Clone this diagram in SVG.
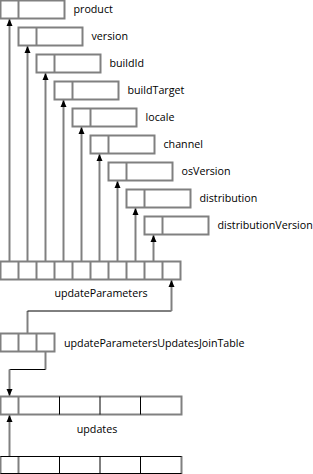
<svg xmlns="http://www.w3.org/2000/svg" width="313" height="474" viewBox="0 0 313 474">
<defs>
<style>
.box{fill:#fff;stroke:#808080;stroke-width:2}
.div{stroke:#808080;stroke-width:2}
.thin{stroke:#000;stroke-width:1}
.lbl{font-family:"Open Sans","DejaVu Sans",sans-serif;font-size:10.7px;fill:#000}
.con{fill:none;stroke:#808080;stroke-width:2}
.hcon{fill:none;stroke:#000;stroke-width:1}
</style>
<marker id="ah" markerUnits="userSpaceOnUse" markerWidth="8" markerHeight="8" viewBox="0 0 8 8" refX="7" refY="4" orient="auto">
<path d="M0,1 L7,4 L0,7 Z" fill="#000"/>
</marker>
</defs>
<rect width="313" height="474" fill="#fff"/>

<g id="connectors">
<line class="con" x1="9.5" y1="261" x2="9.5" y2="19" marker-end="url(#ah)"/>
<line class="con" x1="27.5" y1="261" x2="27.5" y2="46" marker-end="url(#ah)"/>
<line class="con" x1="45.5" y1="261" x2="45.5" y2="73" marker-end="url(#ah)"/>
<line class="con" x1="63.5" y1="261" x2="63.5" y2="100" marker-end="url(#ah)"/>
<line class="con" x1="81.5" y1="261" x2="81.5" y2="127" marker-end="url(#ah)"/>
<line class="con" x1="99.5" y1="261" x2="99.5" y2="154" marker-end="url(#ah)"/>
<line class="con" x1="117.5" y1="261" x2="117.5" y2="181" marker-end="url(#ah)"/>
<line class="con" x1="135.5" y1="261" x2="135.5" y2="208" marker-end="url(#ah)"/>
<line class="con" x1="153.5" y1="261" x2="153.5" y2="235" marker-end="url(#ah)"/>
<line class="con" x1="27.5" y1="333" x2="27.5" y2="311"/>
<line class="hcon" x1="27.5" y1="311" x2="171.5" y2="311"/>
<line class="con" x1="171.5" y1="311" x2="171.5" y2="280" marker-end="url(#ah)"/>
<line class="con" x1="45.5" y1="352" x2="45.5" y2="369.5"/>
<line class="hcon" x1="45.5" y1="369.5" x2="9.5" y2="369.5"/>
<line class="con" x1="9.5" y1="369.5" x2="9.5" y2="396" marker-end="url(#ah)"/>
<line class="con" x1="9.5" y1="456" x2="9.5" y2="415" marker-end="url(#ah)"/>
</g>

<g id="product"><rect class="box" x="0.5" y="0.5" width="64" height="18"/><line class="div" x1="18.5" y1="0.5" x2="18.5" y2="18.5"/><text class="lbl" x="73.5" y="13">product</text></g>
<g id="version"><rect class="box" x="18.5" y="27.5" width="64" height="18"/><line class="div" x1="36.5" y1="27.5" x2="36.5" y2="45.5"/><text class="lbl" x="91.5" y="40">version</text></g>
<g id="buildId"><rect class="box" x="36.5" y="54.5" width="64" height="18"/><line class="div" x1="54.5" y1="54.5" x2="54.5" y2="72.5"/><text class="lbl" x="109.5" y="67">buildId</text></g>
<g id="buildTarget"><rect class="box" x="54.5" y="81.5" width="64" height="18"/><line class="div" x1="72.5" y1="81.5" x2="72.5" y2="99.5"/><text class="lbl" x="127.5" y="94">buildTarget</text></g>
<g id="locale"><rect class="box" x="72.5" y="108.5" width="64" height="18"/><line class="div" x1="90.5" y1="108.5" x2="90.5" y2="126.5"/><text class="lbl" x="145.5" y="121">locale</text></g>
<g id="channel"><rect class="box" x="90.5" y="135.5" width="64" height="18"/><line class="div" x1="108.5" y1="135.5" x2="108.5" y2="153.5"/><text class="lbl" x="163.5" y="148">channel</text></g>
<g id="osVersion"><rect class="box" x="108.5" y="162.5" width="64" height="18"/><line class="div" x1="126.5" y1="162.5" x2="126.5" y2="180.5"/><text class="lbl" x="181.5" y="175">osVersion</text></g>
<g id="distribution"><rect class="box" x="126.5" y="189.5" width="64" height="18"/><line class="div" x1="144.5" y1="189.5" x2="144.5" y2="207.5"/><text class="lbl" x="199.5" y="202">distribution</text></g>
<g id="distributionVersion"><rect class="box" x="144.5" y="216.5" width="64" height="18"/><line class="div" x1="162.5" y1="216.5" x2="162.5" y2="234.5"/><text class="lbl" x="217.5" y="229">distributionVersion</text></g>

<g id="updateParameters">
<rect class="box" x="0.5" y="261.5" width="180" height="18"/>
<path class="div" d="M18.5,261.5V279.5M36.5,261.5V279.5M54.5,261.5V279.5M72.5,261.5V279.5M90.5,261.5V279.5M108.5,261.5V279.5M126.5,261.5V279.5M144.5,261.5V279.5M162.5,261.5V279.5"/>
<text class="lbl" x="101" y="297" text-anchor="middle">updateParameters</text>
</g>

<g id="updateParametersUpdatesJoinTable">
<rect class="box" x="0.5" y="333.5" width="54" height="18"/>
<path class="div" d="M18.5,333.5V351.5M36.5,333.5V351.5"/>
<text class="lbl" x="64" y="347">updateParametersUpdatesJoinTable</text>
</g>

<g id="updates">
<rect class="box" x="0.5" y="396.5" width="181" height="18"/>
<path class="div" d="M18.5,396.5V414.5"/>
<path class="thin" d="M59.5,396.5V414.5M100,396.5V414.5M140.5,396.5V414.5"/>
<text class="lbl" x="97" y="433" text-anchor="middle">updates</text>
</g>

<g id="updatesSource">
<path class="div" d="M0.5,456V474M18.5,456V474M181.5,456V474"/>
<path class="thin" d="M0.5,456.5H181.5M0.5,473.5H181.5M59.5,456.5V474M100,456.5V474M140.5,456.5V474"/>
</g>
</svg>
